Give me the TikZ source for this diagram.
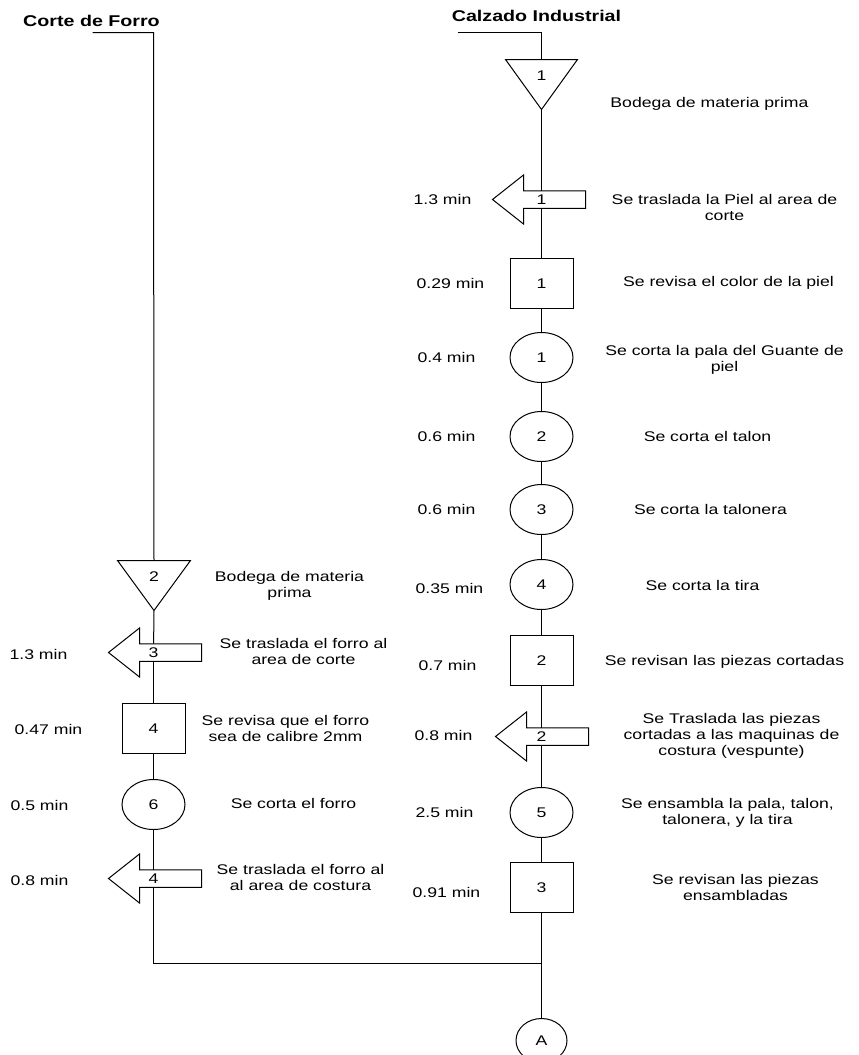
\documentclass[tikz,border=0pt]{standalone}
\usepackage{fontspec}
\setmainfont{Liberation Sans}[FakeStretch=1.26]
\usetikzlibrary{shapes.geometric}
\tikzset{
  bodyfont/.style={font=\fontsize{14}{16}\selectfont},
  txt/.style={bodyfont, inner sep=0pt, align=center},
  hdr/.style={font=\fontsize{15.6}{18}\selectfont\bfseries, inner sep=0pt},
  conn/.style={line width=1pt},
  outline/.style={draw, line width=1pt, fill=white},
  inspect/.style={outline, rectangle, minimum width=63pt, minimum height=50pt, inner sep=0pt, bodyfont},
  oper/.style={outline, ellipse, minimum width=63pt, minimum height=50pt, inner sep=0pt, bodyfont},
  tlabel/.style={inner sep=0pt, minimum height=17.5pt, minimum width=2pt, bodyfont},
}
\newcommand{\fpArrow}[5]{%
  \draw[outline] (#3,#4) -- ++(31,-24.5) -- ++(0,15.75) -- ++(62,0) -- ++(0,17.5)
    -- ++(-62,0) -- ++(0,15.75) -- cycle;
  \node[tlabel] (#1) at (#2,#4) {#5};
}
\newcommand{\fpTri}[5]{% name, x, ytop, label, halfwidth
  \coordinate (#1top) at (#2,#3);
  \coordinate (#1apex) at (#2,#3+50);
  \draw[outline] (#2-#5,#3) -- (#2+#5,#3) -- (#1apex) -- cycle;
  \node[txt] (#1) at (#2,#3+16) {#4};
}
\begin{document}
\begin{tikzpicture}[x=1pt,y=-1pt]
\useasboundingbox (-0.5,-0.5) rectangle (858.5,1054.5);

% ---------- headers ----------
\node[hdr] (hdrL) at (91,20) {Corte de Forro};
\node[hdr] (hdrR) at (536,15) {Calzado Industrial};
\coordinate (hLl) at (92,32);
\coordinate (hL) at (153,32);
\coordinate (hRl) at (457,32);
\coordinate (hR) at (541,32);

% ---------- right column ----------
\fpTri{t1}{541}{59}{1}{36}
\fpArrow{a1}{541}{492}{199}{1}
\node[inspect] (s1) at (541,283) {1};
\node[oper] (c1) at (541,357) {1};
\node[oper] (c2) at (541,436) {2};
\node[oper] (c3) at (541,509) {3};
\node[oper] (c4) at (541,584) {4};
\node[inspect] (s2) at (541,660) {2};
\fpArrow{a2}{541}{495}{736}{2}
\node[oper] (c5) at (541,812) {5};
\node[inspect] (s3) at (541,887) {3};
\coordinate (join) at (541,963);
\node[outline, ellipse, minimum width=51pt, minimum height=44pt, inner sep=0pt, bodyfont] (A) at (541,1040) {A};

% ---------- left column ----------
\fpTri{t2}{153.5}{560}{2}{36.5}
\fpArrow{a3}{153}{108}{652}{3}
\node[inspect] (s4) at (153,728) {4};
\node[oper] (c6) at (153,804) {6};
\fpArrow{a4}{153}{108}{878}{4}
\coordinate (jL) at (153,963);

% ---------- connectors ----------
\draw[conn] (hLl) -- (hL) -- (t2top);
\draw[conn] (hRl) -- (hR) -- (t1top);
\draw[conn] (t1apex) -- (a1);
\draw[conn] (a1) -- (s1);
\draw[conn] (s1) -- (c1);
\draw[conn] (c1) -- (c2);
\draw[conn] (c2) -- (c3);
\draw[conn] (c3) -- (c4);
\draw[conn] (c4) -- (s2);
\draw[conn] (s2) -- (a2);
\draw[conn] (a2) -- (c5);
\draw[conn] (c5) -- (s3);
\draw[conn] (s3) -- (join) -- (A);
\draw[conn] (t2apex) -- (a3);
\draw[conn] (a3) -- (s4);
\draw[conn] (s4) -- (c6);
\draw[conn] (c6) -- (a4);
\draw[conn] (a4) -- (jL) -- (join);

% ---------- right column texts ----------
\node[txt] (d1) at (709,103) {Bodega de materia prima};
\node[txt] (m1) at (442,199) {1.3 min};
\node[txt] (d2) at (724,207) {Se traslada la Piel al area de\\corte};
\node[txt] (m2) at (450,283) {0.29 min};
\node[txt] (d3) at (728,282) {Se revisa el color de la piel};
\node[txt] (m3) at (446,357) {0.4 min};
\node[txt] (d4) at (724,359) {Se corta la pala del Guante de\\piel};
\node[txt] (m4) at (446,436) {0.6 min};
\node[txt] (d5) at (707,436) {Se corta el talon};
\node[txt] (m5) at (446,509) {0.6 min};
\node[txt] (d6) at (710,509) {Se corta la talonera};
\node[txt] (m6) at (449,588) {0.35 min};
\node[txt] (d7) at (702,585) {Se corta la tira};
\node[txt] (m7) at (447,665) {0.7 min};
\node[txt] (d8) at (724,661) {Se revisan las piezas cortadas};
\node[txt] (m8) at (443,735) {0.8 min};
\node[txt] (d9) at (731,735) {Se Traslada las piezas\\cortadas a las maquinas de\\costura (vespunte)};
\node[txt] (m9) at (444,812) {2.5 min};
\node[txt] (d10) at (727,812) {Se ensambla la pala, talon,\\talonera, y la tira};
\node[txt] (m10) at (446,892) {0.91 min};
\node[txt] (d11) at (735,887) {Se revisan las piezas\\ensambladas};

% ---------- left column texts ----------
\node[txt] (e1) at (289,585) {Bodega de materia\\prima};
\node[txt] (n1) at (38,654) {1.3 min};
\node[txt] (e2) at (303,651) {Se traslada el forro al\\area de corte};
\node[txt] (n2) at (48,729) {0.47 min};
\node[txt] (e3) at (285,728) {Se revisa que el forro\\sea de calibre 2mm};
\node[txt] (n3) at (39,805) {0.5 min};
\node[txt] (e4) at (293,803) {Se corta el forro};
\node[txt] (n4) at (39,880) {0.8 min};
\node[txt] (e5) at (300,877) {Se traslada el forro al\\al area de costura};
\end{tikzpicture}
\end{document}
